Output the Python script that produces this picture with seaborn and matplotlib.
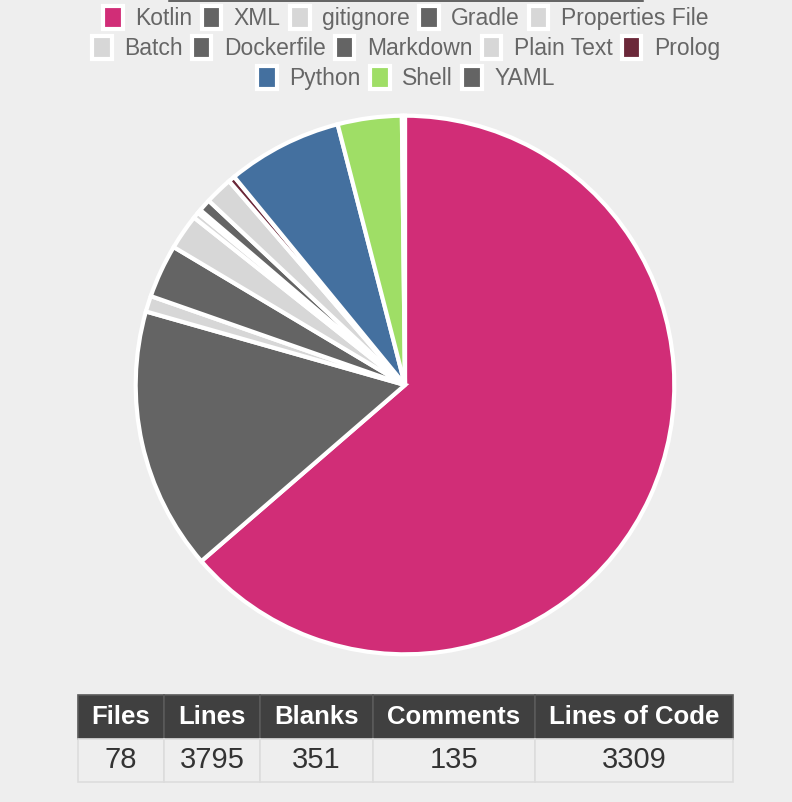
import numpy as np
import pandas as pd
import seaborn as sns
from matplotlib import pyplot as plt
from matplotlib.patches import Patch

# language breakdown
languages = ['Kotlin', 'XML', 'gitignore', 'Gradle', 'Properties File',
             'Batch', 'Dockerfile', 'Markdown', 'Plain Text', 'Prolog',
             'Python', 'Shell', 'YAML']
lines = [2404, 595, 36, 121, 80, 14, 8, 28, 63, 15, 261, 145, 7]
lang_colors = ['#D12D77', '#646464', '#D7D7D7', '#646464', '#D7D7D7',
               '#D7D7D7', '#646464', '#646464', '#D7D7D7', '#6B2839',
               '#44709F', '#9FDE66', '#646464']
legend_rows = [5, 5, 3]

# summary table
table_headers = ['Files', 'Lines', 'Blanks', 'Comments', 'Lines of Code']
table_values = ['78', '3795', '351', '135', '3309']
col_widths = [86, 96, 113, 162, 198]

BG = '#EEEEEE'
W, H = 792, 802

sns.set_style('white')
plt.rcParams['font.family'] = ['Liberation Sans', 'DejaVu Sans']

fig = plt.figure(figsize=(W / 100, H / 100), dpi=100, facecolor=BG)

def px_axes(x0, y0, x1, y1):
    return fig.add_axes([x0 / W, 1 - y1 / H, (x1 - x0) / W, (y1 - y0) / H])

# thin line at the very top
top = px_axes(0, 0, W, 2)
top.set_xlim(0, W)
top.set_ylim(0, 1)
top.axhline(0.6, xmin=169 / W, xmax=643 / W, color='#666666', lw=1.5)
top.axis('off')

# pie
ax = px_axes(133, 113, 677, 657)
ax.pie(lines, colors=lang_colors, startangle=90, counterclock=False,
       radius=1, wedgeprops=dict(edgecolor='white', linewidth=3))
ax.set_xlim(-1.01, 1.01)
ax.set_ylim(-1.01, 1.01)
ax.set_aspect('equal')
ax.axis('off')

# legend, three centred rows
handles = [Patch(facecolor=c, edgecolor='white', linewidth=3) for c in lang_colors]
start = 0
row_y = [18, 48, 78]
for n, y in zip(legend_rows, row_y):
    leg = fig.legend(handles[start:start + n], languages[start:start + n],
                     loc='center', bbox_to_anchor=(406 / W, 1 - y / H),
                     ncol=n, frameon=False, fontsize=16.5,
                     handlelength=0.85, handleheight=1.2, handletextpad=0.55,
                     columnspacing=0.4, borderpad=0, borderaxespad=0)
    for t in leg.get_texts():
        t.set_color('#666666')
    start += n

# stats table
tax = px_axes(78, 695, 733, 782)
tax.axis('off')
total = sum(col_widths)
tbl = tax.table(cellText=[table_values], colLabels=table_headers,
                colWidths=[w / total for w in col_widths],
                cellLoc='center', bbox=[0, 0, 1, 1])
tbl.auto_set_font_size(False)
for (r, c), cell in tbl.get_celld().items():
    if r == 0:
        cell.set_facecolor('#404040')
        cell.set_edgecolor('#5A5A5A')
        cell.set_linewidth(1.2)
        cell.get_text().set_color('white')
        cell.get_text().set_fontweight('bold')
        cell.get_text().set_fontsize(18.5)
    else:
        cell.set_facecolor(BG)
        cell.set_edgecolor('#DCDCDC')
        cell.set_linewidth(1.2)
        cell.get_text().set_color('#333333')
        cell.get_text().set_fontsize(21)

fig.savefig('out.png', dpi=100, facecolor=BG)
